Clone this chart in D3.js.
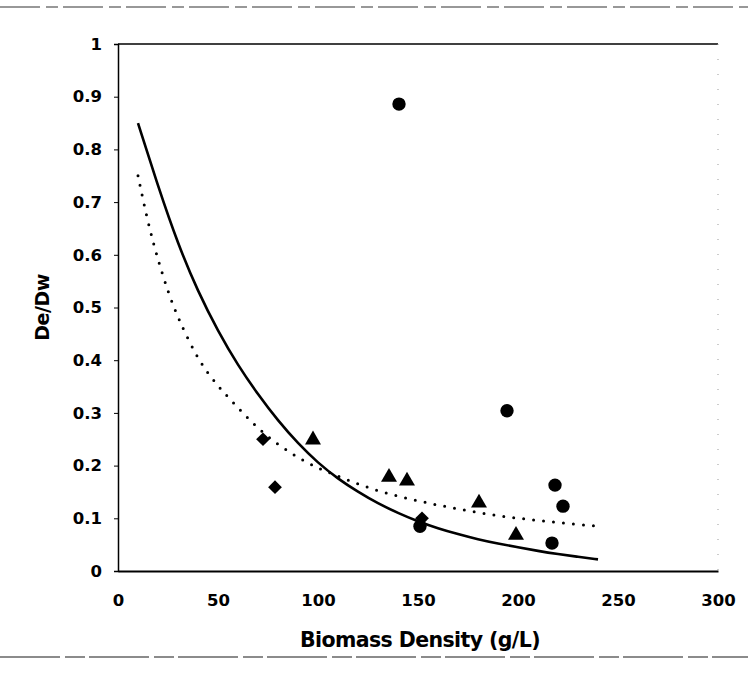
<!DOCTYPE html>
<html><head><meta charset="utf-8">
<script src="https://cdn.jsdelivr.net/npm/d3@7"></script>
<style>body{margin:0;background:#fff}</style>
</head><body>
<script>
const xTicks = [0, 50, 100, 150, 200, 250, 300];
const yTicks = [0, 0.1, 0.2, 0.3, 0.4, 0.5, 0.6, 0.7, 0.8, 0.9, 1];

const circleX = [140.5, 151, 194.5, 217, 218.5, 222.5];
const circleY = [0.886, 0.085, 0.304, 0.053, 0.163, 0.123];
const triangleX = [97.5, 135.5, 144.5, 180.5, 199];
const triangleY = [0.249, 0.178, 0.171, 0.129, 0.068];
const diamondX = [72.5, 78.5, 152];
const diamondY = [0.25, 0.159, 0.10];

const solidX = [10,20,30,40,50,60,70,80,90,100,110,120,130,140,150,160,170,180,190,200,210,220,230,240];
const solidY = [0.85,0.73,0.62,0.53,0.455,0.39,0.335,0.285,0.242,0.205,0.175,0.15,0.128,0.11,0.094,0.081,0.07,0.06,0.052,0.045,0.038,0.032,0.027,0.022];
const dotX = [10,15,20,25,30,40,50,60,70,80,90,100,110,120,130,140,150,160,170,180,190,200,210,220,230,240];
const dotY = [0.75,0.66,0.59,0.53,0.48,0.40,0.35,0.31,0.27,0.24,0.215,0.195,0.18,0.165,0.152,0.142,0.133,0.125,0.118,0.111,0.105,0.1,0.096,0.092,0.088,0.085];

const W = 748, H = 683;
const svg = d3.select("body").append("svg").attr("width", W).attr("height", H);
const x = d3.scaleLinear().domain([0, 300]).range([118, 718]);
const y = d3.scaleLinear().domain([0, 1]).range([571, 44]);
const font = "'DejaVu Sans', 'Liberation Sans', Arial, sans-serif";

// scan artifact lines
svg.append("line").attr("x1", 0).attr("x2", W).attr("y1", 7).attr("y2", 7)
  .attr("stroke", "#777").attr("stroke-width", 1.5).attr("stroke-dasharray", "40,6,12,5");
svg.append("line").attr("x1", 0).attr("x2", W).attr("y1", 657).attr("y2", 657)
  .attr("stroke", "#666").attr("stroke-width", 1.5).attr("stroke-dasharray", "60,5,20,4");

// frame
svg.append("line").attr("x1", x(0)).attr("x2", x(300)).attr("y1", y(1)).attr("y2", y(1))
  .attr("stroke", "#000").attr("stroke-width", 1.5);
svg.append("line").attr("x1", x(300)).attr("x2", x(300)).attr("y1", y(1)).attr("y2", y(0))
  .attr("stroke", "#999").attr("stroke-width", 1).attr("stroke-dasharray", "1,14");

// axes
const yAxis = d3.axisLeft(y).tickValues(yTicks).tickSize(4).tickPadding(12)
  .tickFormat(d => d === 0 ? "0" : d === 1 ? "1" : d3.format(".1f")(d));
const gy = svg.append("g").attr("transform", `translate(${x(0)},0)`).call(yAxis);
gy.select(".domain").attr("stroke", "#000").attr("stroke-width", 1.5);
gy.selectAll("text").attr("font-family", font).attr("font-weight", "bold").attr("font-size", 16.5).attr("fill", "#000");

const xAxis = d3.axisBottom(x).tickValues(xTicks).tickSize(0).tickPadding(23).tickFormat(d3.format("d"));
const gx = svg.append("g").attr("transform", `translate(0,${y(0)})`).call(xAxis);
gx.select(".domain").attr("stroke", "#000").attr("stroke-width", 2);
gx.selectAll("text").attr("font-family", font).attr("font-weight", "bold").attr("font-size", 16.5).attr("fill", "#000");

// titles
svg.append("text").attr("x", (x(0) + x(300)) / 2 + 2).attr("y", 647).attr("text-anchor", "middle")
  .attr("font-family", font).attr("font-weight", "bold").attr("font-size", 20.5).attr("letter-spacing", -0.6)
  .text("Biomass Density (g/L)");
svg.append("text").attr("transform", `translate(49,${(y(0)+y(1))/2}) rotate(-90)`).attr("text-anchor", "middle")
  .attr("font-family", font).attr("font-weight", "bold").attr("font-size", 19).attr("letter-spacing", -0.5)
  .text("De/Dw");

// curves
const line = d3.line().x(d => x(d[0])).y(d => y(d[1])).curve(d3.curveBasis);
svg.append("path").datum(dotX.map((v, i) => [v, dotY[i]])).attr("d", line)
  .attr("fill", "none").attr("stroke", "#000").attr("stroke-width", 3)
  .attr("stroke-linecap", "round").attr("stroke-dasharray", "0,10");
svg.append("path").datum(solidX.map((v, i) => [v, solidY[i]])).attr("d", line)
  .attr("fill", "none").attr("stroke", "#000").attr("stroke-width", 2.6);

// markers
function marks(xs, ys, type, size) {
  svg.append("g").selectAll("path").data(xs.map((v, i) => [v, ys[i]])).join("path")
    .attr("transform", d => `translate(${x(d[0])},${y(d[1])})`)
    .attr("d", d3.symbol().type(type).size(size)).attr("fill", "#000");
}
marks(circleX, circleY, d3.symbolCircle, 140);
marks(triangleX, triangleY, d3.symbolTriangle, 110);
marks(diamondX, diamondY, d3.symbolDiamond2, 120);
</script>
</body></html>
